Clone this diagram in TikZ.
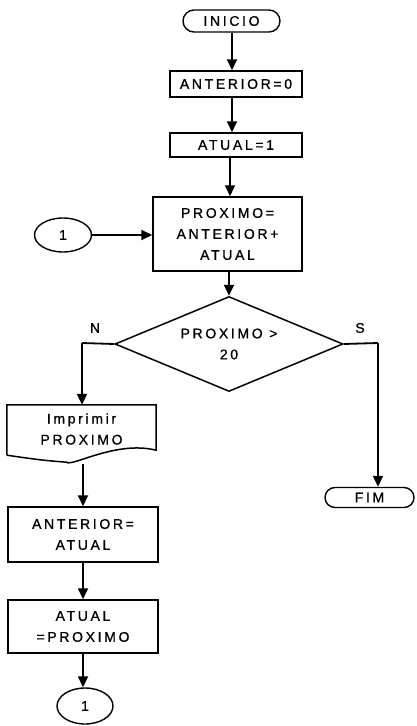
\documentclass[tikz,border=0pt]{standalone}
\usepackage{fontspec}
\setmainfont{Liberation Sans}[LetterSpace=19,FakeBold=0.8]
\usetikzlibrary{shapes.misc,shapes.geometric,arrows.meta,calc}
\begin{document}
\begin{tikzpicture}[x=1pt,y=-1pt,
  every node/.style={font=\fontsize{14}{21}\selectfont, align=center, inner sep=0pt},
  procbox/.style={draw, line width=1.5pt, rectangle},
  termbox/.style={draw, line width=1.4pt, rounded rectangle, rounded rectangle arc length=180},
  connbox/.style={draw, line width=1.4pt, ellipse},
  decbox/.style={draw, line width=1.5pt, diamond, aspect=2.4},
  arr/.style={line width=1.8pt, -{Triangle[length=11pt,width=10pt]}},
  plain/.style={line width=1.8pt},
  lbl/.style={font=\fontsize{14}{15}\selectfont}
]
\useasboundingbox (0,0) rectangle (416,726);

\node[termbox, minimum width=97pt, minimum height=22pt] (inicio) at (231.5,21) {INICIO};
\node[procbox, minimum width=132pt, minimum height=26pt] (ant0) at (236,84) {ANTERIOR=0};
\node[procbox, minimum width=132pt, minimum height=24pt] (atual1) at (236,145) {ATUAL=1};
\node[procbox, minimum width=149pt, minimum height=74pt] (prox) at (227.5,234) {PROXIMO=\\ANTERIOR+\\ATUAL};
\node[connbox, minimum width=57pt, minimum height=34pt] (c1) at (63,235) {1};
\node[decbox, minimum width=228pt, minimum height=95pt] (dec) at (229,344) {};
\node at (229,344) (dectext) {PROXIMO >\\20};
\node[lbl] (nlab) at (95,328) {N};
\node[lbl] (slab) at (360,328) {S};
\coordinate (nc) at (82,343);
\coordinate (sc) at (378,343);

\node[minimum width=149pt, minimum height=57pt] (imp) at (81.5,433.5) {};
\node (imptext) at (81.5,429) {Imprimir\\PROXIMO};
\draw[line width=1.5pt] (imp.south west) ++(0,-7) -- (imp.north west) -- (imp.north east) -- ($(imp.south east)+(0,-12)$)
  .. controls ($(imp.south east)+(-40,-22)$) and ($(imp.south)+(-10,5)$) .. ($(imp.south)+(-15,0)$)
  .. controls ($(imp.south west)+(35,-2)$) .. ($(imp.south west)+(0,-7)$);

\node[procbox, minimum width=150pt, minimum height=55pt] (antatual) at (83,534.5) {ANTERIOR=\\ATUAL};
\node[procbox, minimum width=150pt, minimum height=53pt] (atualprox) at (83,626.5) {ATUAL\\=PROXIMO};
\node[connbox, minimum width=56pt, minimum height=36pt] (c2) at (85,706) {1};
\node[termbox, minimum width=89pt, minimum height=20pt] (fim) at (369.5,497.5) {FIM};

\draw[arr] (232,0 |- inicio.south) -- (232,0 |- ant0.north);
\draw[arr] (232,0 |- ant0.south) -- (232,0 |- atual1.north);
\draw[arr] (230,0 |- atual1.south) -- (230,0 |- prox.north);
\draw[arr] (c1.east) -- (prox.west |- c1.east);
\draw[arr] (229,0 |- prox.south) -- (dec.north);
\draw[plain] (dec.west) -- (nc);
\draw[arr] (nc) -- (nc |- imp.north);
\draw[plain] (dec.east) -- (sc);
\draw[arr] (sc) -- (sc |- fim.north);
\draw[arr] (83,0 |- imp.south) ++(0,2) -- (83,0 |- antatual.north);
\draw[arr] (83,0 |- antatual.south) -- (83,0 |- atualprox.north);
\draw[arr] (83,0 |- atualprox.south) -- (83,0 |- c2.north);
\end{tikzpicture}
\end{document}
